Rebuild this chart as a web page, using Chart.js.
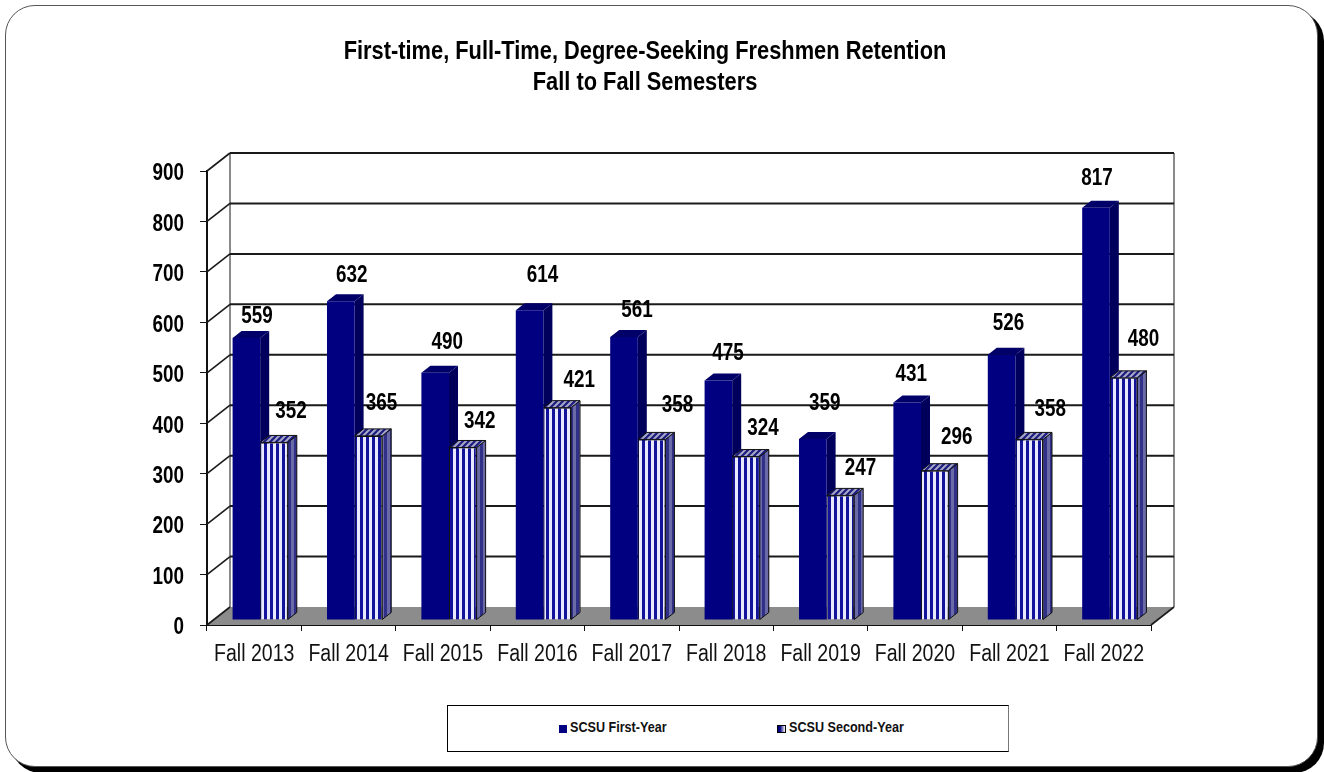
<!DOCTYPE html>
<html lang="en">
<head>
  <meta charset="UTF-8">
  <title>Freshmen Retention</title>
  <script src="https://cdn.jsdelivr.net/npm/chart.js"></script>
  <style>
    html, body { margin: 0; padding: 0; background: #fff; overflow: hidden; }
    #panel {
      position: absolute; left: 5px; top: 5px; width: 1311px; height: 760px;
      background: #fff; border: 1px solid #555; border-radius: 30px;
      box-shadow: 6px 6px 0 #000;
    }
    #chart { position: absolute; left: 0; top: 0; }
    #legend {
      position: absolute; left: 447px; top: 705px; width: 560px; height: 45px;
      border: 1px solid #000; border-right-color: #777; background: #fff;
      font: bold 15px "Liberation Sans", sans-serif; color: #111;
    }
    #legend span { position: absolute; top: 12px; line-height: 18px; white-space: nowrap; transform: scaleX(0.84); transform-origin: left center; }
    #legend i { position: absolute; top: 19px; width: 8px; height: 8px; box-sizing: border-box; }
  </style>
</head>
<body>
  <div id="panel"></div>
  <canvas id="chart" width="1290" height="772"></canvas>
  <div id="legend"></div>

  <script>
    const categories = ["Fall 2013", "Fall 2014", "Fall 2015", "Fall 2016", "Fall 2017", "Fall 2018", "Fall 2019", "Fall 2020", "Fall 2021", "Fall 2022"];
    const firstYear = [559, 632, 490, 614, 561, 475, 359, 431, 526, 817];
    const secondYear = [352, 365, 342, 421, 358, 324, 247, 296, 358, 480];
    const titleLines = ["First-time, Full-Time, Degree-Seeking Freshmen Retention", "Fall to Fall Semesters"];
    const seriesNames = ["SCSU First-Year", "SCSU Second-Year"];

    // hand placed labels in the original, offset from top centre of the front face
    const firstLabelNudge = [[10.5,-21],[11,-26],[12,-30],[13,-35],[13,-26],[9.5,-27],[12,-35],[4,-28],[7,-31],[1,-29]];
    const secondLabelNudge = [[17,-31],[13,-32],[17,-26],[22,-27],[26,-34],[17,-28],[20,-27],[22,-33],[21,-30],[20,-38]];

    const fontName = '"Liberation Sans", sans-serif';
    const navy = "#000080";
    const depth = { x: 23, y: 18 };     // floor and walls
    const barShift = { x: 6, y: -5 };   // bars stand in the middle of the floor
    const barDepth = { x: 9, y: 7 };

    const canvas = document.getElementById("chart");
    const ctx2d = canvas.getContext("2d");

    // the original uses a narrow font, there is none here so squeeze the text
    const rawFillText = ctx2d.fillText.bind(ctx2d);
    ctx2d.fillText = (s, x, y) => {
      const k = /26px/.test(ctx2d.font) ? 0.84 : /bold/.test(ctx2d.font) ? 0.82 : 0.85;
      ctx2d.save();
      ctx2d.translate(x, y);
      ctx2d.scale(k, 1);
      rawFillText(s, 0, 0);
      ctx2d.restore();
    };

    function stripes(dark, light) {
      const tile = document.createElement("canvas");
      tile.width = 6; tile.height = 6;
      const c = tile.getContext("2d");
      c.fillStyle = light; c.fillRect(0, 0, 6, 6);
      c.fillStyle = dark; c.fillRect(0, 0, 3, 6);
      return ctx2d.createPattern(tile, "repeat");
    }
    function slants(dark, light) {
      const tile = document.createElement("canvas");
      tile.width = 6; tile.height = 6;
      const c = tile.getContext("2d");
      c.fillStyle = dark; c.fillRect(0, 0, 6, 6);
      c.strokeStyle = light; c.lineWidth = 2;
      c.beginPath(); c.moveTo(-1, 7); c.lineTo(7, -1); c.moveTo(-4, 4); c.lineTo(4, -4); c.moveTo(2, 10); c.lineTo(10, 2); c.stroke();
      return ctx2d.createPattern(tile, "repeat");
    }
    const frontPattern = stripes("#12129a", "#eaeaff");
    const sidePattern = stripes("#303088", "#6a6aa6");
    const topPattern = slants("#1c1c80", "#a8a8c8");

    function poly(ctx, pts, fill, stroke) {
      ctx.beginPath();
      pts.forEach((p, i) => i ? ctx.lineTo(p[0], p[1]) : ctx.moveTo(p[0], p[1]));
      ctx.closePath();
      if (fill) { ctx.fillStyle = fill; ctx.fill(); }
      if (stroke) { ctx.strokeStyle = stroke; ctx.lineWidth = 1; ctx.stroke(); }
    }
    function line(ctx, x1, y1, x2, y2, color, w) {
      ctx.beginPath();
      ctx.moveTo(x1, y1); ctx.lineTo(x2, y2);
      ctx.strokeStyle = color; ctx.lineWidth = w; ctx.stroke();
    }
    function drawFaces(ctx, meta, striped) {
      meta.data.forEach(bar => {
        const l = bar.x - bar.width / 2, r = bar.x + bar.width / 2;
        const dx = barDepth.x, dy = barDepth.y;
        poly(ctx, [[r, bar.y], [r + dx, bar.y - dy], [r + dx, bar.base - dy], [r, bar.base]],
          striped ? sidePattern : "#00005c", striped ? "#111" : null);
        poly(ctx, [[l, bar.y], [l + dx, bar.y - dy], [r + dx, bar.y - dy], [r, bar.y]],
          striped ? topPattern : "#000068", striped ? "#111" : null);
      });
    }

    const box3d = {
      id: "box3d",
      beforeDatasetsDraw(chart) {
        const { ctx, chartArea: a, scales: { y } } = chart;
        const dx = depth.x, dy = depth.y;
        ctx.save();
        poly(ctx, [[a.left, a.bottom], [a.left + dx, a.bottom - dy], [a.right + dx, a.bottom - dy], [a.right, a.bottom]], "#8c8c8c");
        line(ctx, a.left + dx, a.top - dy, a.left + dx, a.bottom - dy, "#8a8a8a", 2);
        line(ctx, a.right + dx, a.top - dy, a.right + dx, a.bottom - dy, "#8a8a8a", 2);
        y.ticks.forEach(t => {
          const py = y.getPixelForValue(t.value);
          if (t.value > 0) line(ctx, a.left + dx, py - dy, a.right + dx, py - dy, "#1a1a1a", 2);
          line(ctx, a.left, py, a.left + dx, py - dy, "#1a1a1a", 1.6);
        });
        line(ctx, a.right, a.bottom, a.right + dx, a.bottom - dy, "#1a1a1a", 1.6);
        ctx.restore();
      },
      // the library paints dataset 1 first, then dataset 0. Sides of the first
      // series have to go under the second series, so both get done here.
      beforeDatasetDraw(chart, args) {
        const ctx = chart.ctx;
        ctx.save();
        ctx.translate(barShift.x, barShift.y);
        if (args.index === 1) {
          drawFaces(ctx, chart.getDatasetMeta(0), false);
          drawFaces(ctx, args.meta, true);
        }
      },
      afterDatasetDraw(chart) {
        chart.ctx.restore();
      },
      afterDatasetsDraw(chart) {
        const ctx = chart.ctx;
        ctx.save();
        ctx.font = "bold 23px " + fontName;
        ctx.fillStyle = "#000";
        ctx.textAlign = "center";
        ctx.textBaseline = "middle";
        [firstLabelNudge, secondLabelNudge].forEach((nudge, d) => {
          chart.getDatasetMeta(d).data.forEach((bar, i) => {
            ctx.fillText(chart.data.datasets[d].data[i],
              bar.x + barShift.x + nudge[i][0], bar.y + barShift.y + nudge[i][1]);
          });
        });
        ctx.restore();
      }
    };

    new Chart(canvas, {
      type: "bar",
      plugins: [box3d],
      data: {
        labels: categories,
        datasets: [
          { label: seriesNames[0], data: firstYear, backgroundColor: navy, clip: false,
            categoryPercentage: 0.585, barPercentage: 1 },
          { label: seriesNames[1], data: secondYear, backgroundColor: frontPattern, borderColor: "#111", borderWidth: 1, clip: false,
            categoryPercentage: 0.585, barPercentage: 1 }
        ]
      },
      options: {
        responsive: false,
        animation: false,
        layout: { padding: { left: 139, right: 139, top: 0, bottom: 0 } },
        plugins: {
          legend: { display: false },
          tooltip: { enabled: false },
          title: {
            display: true,
            text: titleLines,
            color: "#000",
            font: { family: fontName, size: 26, weight: "bold", lineHeight: 1.2 },
            padding: { top: 36, bottom: 72.6 }
          }
        },
        scales: {
          x: {
            offset: true,
            grid: { offset: true, drawOnChartArea: false, color: "#111", tickLength: 6, tickColor: "#111" },
            border: { color: "#111", width: 2 },
            ticks: { color: "#111", padding: 10, maxRotation: 0, autoSkip: false, font: { family: fontName, size: 23 } },
            afterFit(s) { s.height = 147; }
          },
          y: {
            min: 0, max: 900,
            grid: { drawOnChartArea: false, color: "#111", tickLength: 7, tickColor: "#111" },
            border: { color: "#111", width: 2 },
            ticks: { stepSize: 100, color: "#000", padding: 16, labelOffset: 3, font: { family: fontName, size: 23, weight: "bold" } },
            afterFit(s) { s.width = 68; }
          }
        }
      }
    });

    // legend box sits off centre in the original, so it is plain html
    const legend = document.getElementById("legend");
    legend.innerHTML =
      '<i style="left:111px;background:' + navy + '"></i><span style="left:122px">' + seriesNames[0] + '</span>' +
      '<i style="left:329px;width:9px;background:linear-gradient(90deg,#000080 30%,#fff);border:1px solid #000"></i><span style="left:341px">' + seriesNames[1] + '</span>';
  </script>
</body>
</html>
